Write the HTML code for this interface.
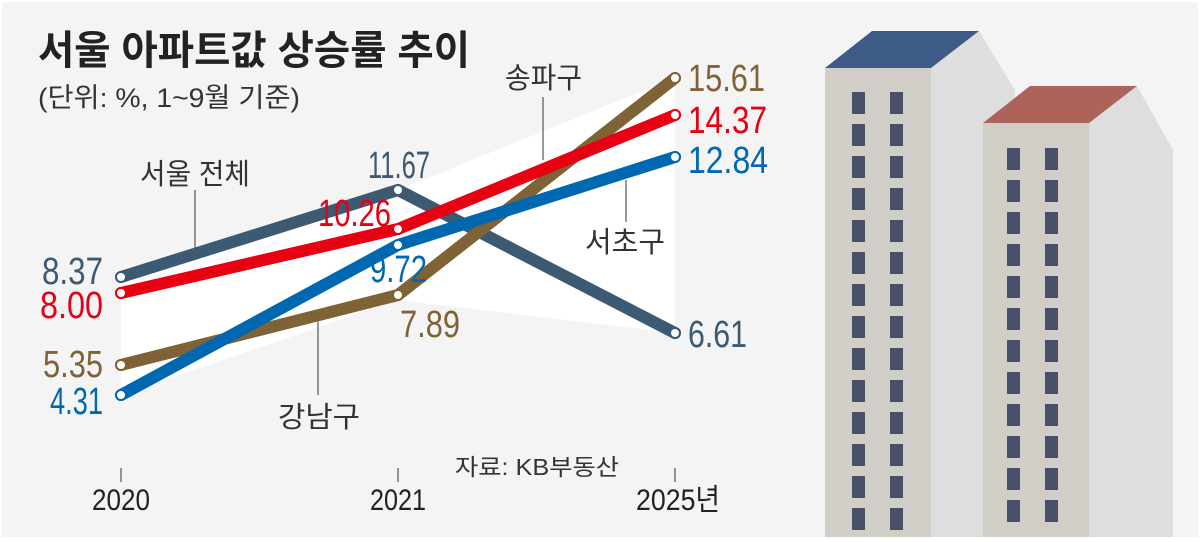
<!DOCTYPE html>
<html><head><meta charset="utf-8"><style>
body{margin:0;width:1200px;height:537px;overflow:hidden;background:#fff}
svg text{font-family:"Liberation Sans","Noto Sans CJK KR",sans-serif}
</style></head><body>
<svg width="1200" height="537" viewBox="0 0 1200 537">
<rect x="0" y="0" width="1200" height="537" fill="#fff"/>
<rect x="2" y="2" width="1196" height="535" fill="#f4f4f4"/>
<polygon points="121,277 398,190 675,78 675,333 398,300 121,395" fill="#fff"/>
<!-- buildings -->
<polygon points="931,68 979,31 1015,90 1015,537 931,537" fill="#dedede"/>
<polygon points="825,68 872,31 979,31 931,68" fill="#3e5b87"/>
<rect x="825" y="68" width="106" height="469" fill="#d1cdc7"/>
<g fill="#474f69">
<rect x="852" y="92" width="13" height="22"/><rect x="890" y="92" width="13" height="22"/>
<rect x="852" y="124" width="13" height="22"/><rect x="890" y="124" width="13" height="22"/>
<rect x="852" y="156" width="13" height="22"/><rect x="890" y="156" width="13" height="22"/>
<rect x="852" y="188" width="13" height="22"/><rect x="890" y="188" width="13" height="22"/>
<rect x="852" y="220" width="13" height="22"/><rect x="890" y="220" width="13" height="22"/>
<rect x="852" y="252" width="13" height="22"/><rect x="890" y="252" width="13" height="22"/>
<rect x="852" y="284" width="13" height="22"/><rect x="890" y="284" width="13" height="22"/>
<rect x="852" y="316" width="13" height="22"/><rect x="890" y="316" width="13" height="22"/>
<rect x="852" y="348" width="13" height="22"/><rect x="890" y="348" width="13" height="22"/>
<rect x="852" y="380" width="13" height="22"/><rect x="890" y="380" width="13" height="22"/>
<rect x="852" y="412" width="13" height="22"/><rect x="890" y="412" width="13" height="22"/>
<rect x="852" y="444" width="13" height="22"/><rect x="890" y="444" width="13" height="22"/>
<rect x="852" y="476" width="13" height="22"/><rect x="890" y="476" width="13" height="22"/>
<rect x="852" y="508" width="13" height="22"/><rect x="890" y="508" width="13" height="22"/>
</g>
<polygon points="1089,123 1137,86 1173,150 1173,537 1089,537" fill="#dedede"/>
<polygon points="983,123 1030,86 1137,86 1089,123" fill="#ad635a"/>
<rect x="983" y="123" width="106" height="414" fill="#d1cdc7"/>
<g fill="#474f69">
<rect x="1007" y="148" width="13" height="22"/><rect x="1045" y="148" width="13" height="22"/>
<rect x="1007" y="180" width="13" height="22"/><rect x="1045" y="180" width="13" height="22"/>
<rect x="1007" y="212" width="13" height="22"/><rect x="1045" y="212" width="13" height="22"/>
<rect x="1007" y="244" width="13" height="22"/><rect x="1045" y="244" width="13" height="22"/>
<rect x="1007" y="276" width="13" height="22"/><rect x="1045" y="276" width="13" height="22"/>
<rect x="1007" y="308" width="13" height="22"/><rect x="1045" y="308" width="13" height="22"/>
<rect x="1007" y="340" width="13" height="22"/><rect x="1045" y="340" width="13" height="22"/>
<rect x="1007" y="372" width="13" height="22"/><rect x="1045" y="372" width="13" height="22"/>
<rect x="1007" y="404" width="13" height="22"/><rect x="1045" y="404" width="13" height="22"/>
<rect x="1007" y="436" width="13" height="22"/><rect x="1045" y="436" width="13" height="22"/>
<rect x="1007" y="468" width="13" height="22"/><rect x="1045" y="468" width="13" height="22"/>
<rect x="1007" y="500" width="13" height="22"/><rect x="1045" y="500" width="13" height="22"/>
</g>
<!-- title -->
<text x="38" y="64" font-size="40" font-weight="bold" fill="#222" textLength="432" lengthAdjust="spacingAndGlyphs">서울 아파트값 상승률 추이</text>
<text x="38" y="107" font-size="27" fill="#333" textLength="262" lengthAdjust="spacingAndGlyphs">(단위: %, 1~9월 기준)</text>
<!-- leader lines -->
<g stroke="#555" stroke-width="1.2">
<line x1="195" y1="190" x2="195" y2="250"/>
<line x1="318" y1="320" x2="318" y2="395"/>
<line x1="543" y1="97" x2="543" y2="160"/>
<line x1="626" y1="180" x2="626" y2="222"/>
<line x1="121" y1="468" x2="121" y2="482"/>
<line x1="398" y1="468" x2="398" y2="482"/>
<line x1="675" y1="468" x2="675" y2="482"/>
</g>
<!-- series -->
<g fill="none" stroke-width="12" stroke-linejoin="round" stroke-linecap="round">
<polyline points="121,277 398,190 675,333" stroke="#3d5a73"/>
<polyline points="121,365 398,295 675,78" stroke="#7f6336"/>
<polyline points="121,293 398,229 675,115" stroke="#e60012"/>
<polyline points="121,395 398,245 675,157" stroke="#0068b0"/>
</g>
<g fill="#fff" stroke-width="2">
<circle cx="121" cy="277" r="5" stroke="#3d5a73"/><circle cx="398" cy="190" r="5" stroke="#3d5a73"/><circle cx="675" cy="333" r="5" stroke="#3d5a73"/>
<circle cx="121" cy="365" r="5" stroke="#7f6336"/><circle cx="398" cy="295" r="5" stroke="#7f6336"/><circle cx="675" cy="78" r="5" stroke="#7f6336"/>
<circle cx="121" cy="293" r="5" stroke="#e60012"/><circle cx="398" cy="229" r="5" stroke="#e60012"/><circle cx="675" cy="115" r="5" stroke="#e60012"/>
<circle cx="121" cy="395" r="5" stroke="#0068b0"/><circle cx="398" cy="245" r="5" stroke="#0068b0"/><circle cx="675" cy="157" r="5" stroke="#0068b0"/>
</g>
<!-- value labels -->
<g font-size="38" lengthAdjust="spacingAndGlyphs">
<text x="42" y="284" textLength="61" lengthAdjust="spacingAndGlyphs" fill="#3d5a73">8.37</text>
<text x="40" y="318" textLength="63" lengthAdjust="spacingAndGlyphs" fill="#e60012">8.00</text>
<text x="43" y="377" textLength="60" lengthAdjust="spacingAndGlyphs" fill="#7f6336">5.35</text>
<text x="50" y="414" textLength="53" lengthAdjust="spacingAndGlyphs" fill="#0068b0">4.31</text>
<text x="368" y="178" textLength="62" lengthAdjust="spacingAndGlyphs" fill="#3d5a73">11.67</text>
<text x="318" y="226" textLength="73" lengthAdjust="spacingAndGlyphs" fill="#e60012">10.26</text>
<text x="370" y="282" textLength="57" lengthAdjust="spacingAndGlyphs" fill="#0068b0">9.72</text>
<text x="400" y="337" textLength="60" lengthAdjust="spacingAndGlyphs" fill="#7f6336">7.89</text>
<text x="688" y="91" textLength="77" lengthAdjust="spacingAndGlyphs" fill="#7f6336">15.61</text>
<text x="688" y="133" textLength="79" lengthAdjust="spacingAndGlyphs" fill="#e60012">14.37</text>
<text x="688" y="173" textLength="80" lengthAdjust="spacingAndGlyphs" fill="#0068b0">12.84</text>
<text x="688" y="347" textLength="59" lengthAdjust="spacingAndGlyphs" fill="#3d5a73">6.61</text>
</g>
<g font-size="29" fill="#333">
<text x="140" y="184" textLength="110" lengthAdjust="spacingAndGlyphs">서울 전체</text>
<text x="278" y="427" textLength="82" lengthAdjust="spacingAndGlyphs">강남구</text>
<text x="505" y="88" textLength="77" lengthAdjust="spacingAndGlyphs">송파구</text>
<text x="585" y="252" textLength="80" lengthAdjust="spacingAndGlyphs">서초구</text>
</g>
<text x="455" y="475" font-size="23" fill="#333" textLength="164" lengthAdjust="spacingAndGlyphs">자료: KB부동산</text>
<g font-size="30" fill="#222">
<text x="92" y="510" textLength="58" lengthAdjust="spacingAndGlyphs">2020</text>
<text x="370" y="510" textLength="56" lengthAdjust="spacingAndGlyphs">2021</text>
<text x="636" y="510" textLength="84" lengthAdjust="spacingAndGlyphs">2025년</text>
</g>
</svg>
</body></html>
